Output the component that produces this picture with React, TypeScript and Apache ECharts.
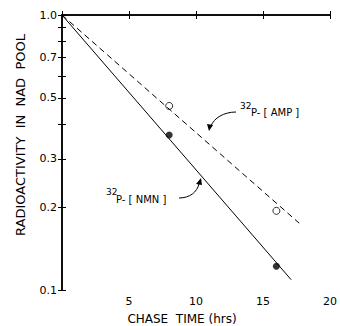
import React, { useEffect, useRef } from "react";
import * as echarts from "echarts";

// Measured points (chase time in hrs, fraction of radioactivity)
const chaseHours = [8, 16];
const nmnValues = [0.366, 0.122];
const ampValues = [0.467, 0.194];

// Fitted lines (endpoints)
const nmnFitX = [0, 17.1];
const nmnFitY = [1.0, 0.109];
const ampFitX = [0, 17.7];
const ampFitY = [1.0, 0.175];

// Axis ticks
const xTickLabels = [5, 10, 15, 20];
const yTickValues = [0.1, 0.2, 0.3, 0.4, 0.5, 0.6, 0.7, 0.8, 0.9, 1.0];
const yLabelValues = [0.1, 0.2, 0.3, 0.5, 0.7, 1.0];

const lg = (v: number) => Math.log10(v);
const FONT = "DejaVu Sans";

export default function App() {
  const ref = useRef<HTMLDivElement>(null);
  useEffect(() => {
    if (!ref.current) return;
    const chart = echarts.init(ref.current, undefined, { renderer: "svg" });
    const axisLine = { show: true, lineStyle: { color: "#000", width: 1.5 } };
    const tickStyle = { color: "#000", width: 1 };
    const option: any = {
      animation: false,
      backgroundColor: "#fff",
      grid: { left: 62, top: 15, right: 3, bottom: 36, containLabel: false },
      xAxis: [
        {
          type: "value",
          min: 0,
          max: 20,
          interval: 5,
          axisLine,
          axisTick: { show: true, inside: true, length: 4, lineStyle: tickStyle },
          axisLabel: {
            color: "#000",
            fontFamily: FONT,
            fontSize: 11,
            margin: 6,
            customValues: xTickLabels,
            alignMaxLabel: "center",
            formatter: (v: number) => String(v),
          },
          splitLine: { show: false },
        },
        {
          type: "value",
          position: "top",
          min: 0,
          max: 20,
          interval: 5,
          axisLine,
          axisTick: { show: true, inside: true, length: 4, lineStyle: tickStyle },
          axisLabel: { show: false },
          splitLine: { show: false },
        },
      ],
      yAxis: [
        {
          type: "value",
          min: -1,
          max: 0,
          axisLine,
          axisTick: {
            show: true,
            inside: true,
            length: 4,
            lineStyle: tickStyle,
            customValues: yTickValues.map(lg),
          },
          axisLabel: {
            color: "#000",
            fontFamily: FONT,
            fontSize: 11,
            margin: 5,
            customValues: yLabelValues.map(lg),
            formatter: (v: number) => Math.pow(10, v).toFixed(1),
          },
          splitLine: { show: false },
        },
        {
          type: "value",
          position: "right",
          min: -1,
          max: 0,
          axisLine,
          axisTick: {
            show: true,
            inside: true,
            length: 4,
            lineStyle: tickStyle,
            customValues: yTickValues.map(lg),
          },
          axisLabel: { show: false },
          splitLine: { show: false },
        },
      ],
      series: [
        {
          type: "line",
          name: "NMN fit",
          data: nmnFitX.map((x, i) => [x, lg(nmnFitY[i])]),
          showSymbol: false,
          symbol: "none",
          lineStyle: { color: "#000", width: 1 },
        },
        {
          type: "line",
          name: "AMP fit",
          data: ampFitX.map((x, i) => [x, lg(ampFitY[i])]),
          showSymbol: false,
          symbol: "none",
          lineStyle: { color: "#000", width: 1, type: [6, 4] },
        },
        {
          type: "scatter",
          name: "NMN",
          data: chaseHours.map((x, i) => [x, lg(nmnValues[i])]),
          symbol: "circle",
          symbolSize: 7,
          itemStyle: { color: "#000" },
        },
        {
          type: "scatter",
          name: "AMP",
          data: chaseHours.map((x, i) => [x, lg(ampValues[i])]),
          symbol: "circle",
          symbolSize: 7,
          itemStyle: { color: "#fff", borderColor: "#000", borderWidth: 1 },
        },
      ],
      graphic: [
        {
          type: "text",
          x: 20,
          y: 135,
          rotation: Math.PI / 2,
          style: {
            text: "RADIOACTIVITY  IN  NAD  POOL",
            font: `13px "${FONT}"`,
            fill: "#000",
            align: "center",
            verticalAlign: "middle",
          },
        },
        {
          type: "text",
          x: 182,
          y: 319,
          style: {
            text: "CHASE  TIME (hrs)",
            font: `12px "${FONT}"`,
            fill: "#000",
            align: "center",
            verticalAlign: "middle",
          },
        },
        // AMP label
        {
          type: "text",
          x: 240,
          y: 106,
          style: { text: "32", font: `9px "${FONT}"`, fill: "#000", align: "left", verticalAlign: "middle" },
        },
        {
          type: "text",
          x: 251,
          y: 112,
          style: { text: "P- [ AMP ]", font: `10px "${FONT}"`, fill: "#000", align: "left", verticalAlign: "middle" },
        },
        {
          type: "bezierCurve",
          shape: { x1: 236, y1: 112, cpx1: 224, cpy1: 112, cpx2: 214, cpy2: 118, x2: 211, y2: 126 },
          style: { stroke: "#000", lineWidth: 1, fill: null },
        },
        {
          type: "polygon",
          shape: { points: [[209, 131], [207, 124], [213, 125]] },
          style: { fill: "#000" },
        },
        // NMN label
        {
          type: "text",
          x: 106,
          y: 192,
          style: { text: "32", font: `9px "${FONT}"`, fill: "#000", align: "left", verticalAlign: "middle" },
        },
        {
          type: "text",
          x: 116,
          y: 199,
          style: { text: "P- [ NMN ]", font: `10px "${FONT}"`, fill: "#000", align: "left", verticalAlign: "middle" },
        },
        {
          type: "bezierCurve",
          shape: { x1: 179, y1: 198, cpx1: 190, cpy1: 198, cpx2: 197, cpy2: 192, x2: 199, y2: 184 },
          style: { stroke: "#000", lineWidth: 1, fill: null },
        },
        {
          type: "polygon",
          shape: { points: [[201, 178], [196, 184], [202, 185]] },
          style: { fill: "#000" },
        },
      ],
    };
    chart.setOption(option);
    return () => chart.dispose();
  }, []);
  return (
    <div
      ref={ref}
      style={{ position: "absolute", left: 0, top: 0, width: 340, height: 326 }}
    />
  );
}
